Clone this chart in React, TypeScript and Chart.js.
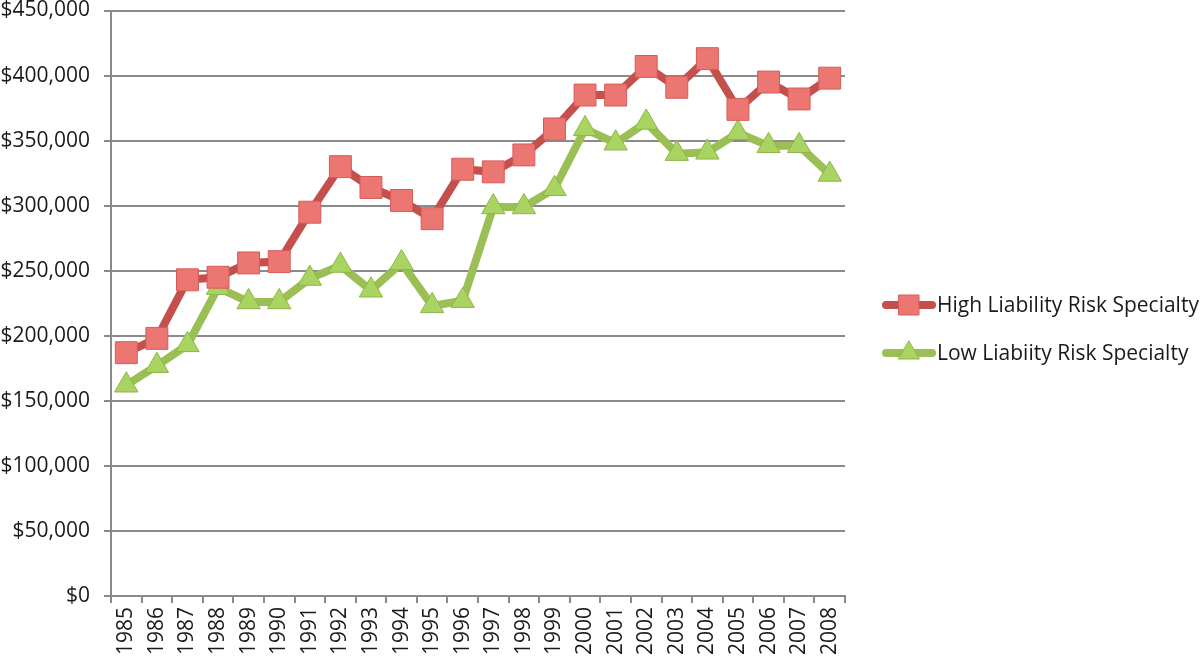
import React, { useEffect, useRef } from "react";
import { Chart, registerables } from "chart.js";

Chart.register(...registerables);

const years = [
  "1985", "1986", "1987", "1988", "1989", "1990", "1991", "1992", "1993", "1994", "1995", "1996",
  "1997", "1998", "1999", "2000", "2001", "2002", "2003", "2004", "2005", "2006", "2007", "2008",
];

const highLiability = [
  187000, 198000, 243000, 245000, 256000, 257000, 295000, 330000, 314000, 304000, 290000, 328000,
  326000, 339000, 359000, 385000, 385000, 407000, 391000, 413000, 374000, 395000, 382000, 398000,
];

const lowLiability = [
  162000, 177000, 193000, 237000, 226000, 226000, 244000, 254000, 235000, 256000, 223000, 227000,
  299000, 299000, 313000, 359000, 348000, 364000, 340000, 341000, 356000, 346000, 346000, 324000,
];

const FONT = "'Open Sans', sans-serif";
const SHIFT = 6;

const legendPlugin = {
  id: "sideLegend",
  afterDraw(chart: any) {
    const ctx = chart.ctx;
    const rows = [305 + SHIFT, 353 + SHIFT];
    chart.data.datasets.forEach((ds: any, i: number) => {
      const y = rows[i];
      ctx.save();
      ctx.strokeStyle = ds.borderColor;
      ctx.lineWidth = ds.borderWidth;
      ctx.lineCap = "round";
      ctx.beginPath();
      ctx.moveTo(886, y);
      ctx.lineTo(932, y);
      ctx.stroke();
      ctx.fillStyle = ds.pointBackgroundColor;
      ctx.strokeStyle = ds.pointBorderColor;
      ctx.lineWidth = 1;
      const cx = 909;
      if (ds.pointStyle === "rect") {
        ctx.beginPath();
        ctx.rect(cx - 10, y - 10, 20, 20);
        ctx.fill();
        ctx.stroke();
      } else {
        const r = 12;
        ctx.beginPath();
        ctx.moveTo(cx, y - r);
        ctx.lineTo(cx + r * 0.866, y + r * 0.5);
        ctx.lineTo(cx - r * 0.866, y + r * 0.5);
        ctx.closePath();
        ctx.fill();
        ctx.stroke();
      }
      ctx.fillStyle = "#1a1a1a";
      ctx.font = `21px ${FONT}`;
      ctx.textBaseline = "middle";
      ctx.textAlign = "left";
      ctx.fillText(ds.label, 937, y + 1);
      ctx.restore();
    });
  },
};

export default function App() {
  const ref = useRef<HTMLCanvasElement | null>(null);

  useEffect(() => {
    if (!ref.current) return;
    const chart = new Chart(ref.current, {
      type: "line",
      data: {
        labels: years,
        datasets: [
          {
            label: "High Liability Risk Specialty",
            data: highLiability,
            borderColor: "#c4504d",
            borderWidth: 8,
            pointStyle: "rect",
            pointRadius: 15.5,
            pointBackgroundColor: "#ec7672",
            pointBorderColor: "#d65c58",
            pointBorderWidth: 1,
            tension: 0,
          },
          {
            label: "Low Liabiity Risk Specialty",
            data: lowLiability,
            borderColor: "#9bbf55",
            borderWidth: 8,
            pointStyle: "triangle",
            pointRadius: 13.5,
            pointBackgroundColor: "#aad461",
            pointBorderColor: "#8db54a",
            pointBorderWidth: 1,
            tension: 0,
          },
        ],
      },
      options: {
        responsive: false,
        animation: false,
        layout: { padding: { top: 4, right: 355, left: 0, bottom: 0 } },
        plugins: { legend: { display: false }, tooltip: { enabled: false } },
        scales: {
          x: {
            offset: true,
            grid: {
              offset: true,
              drawOnChartArea: false,
              drawTicks: true,
              tickLength: 7,
              color: "#8a8a8a",
              lineWidth: 2,
            },
            border: { color: "#8a8a8a", width: 2 },
            ticks: {
              autoSkip: false,
              maxRotation: 90,
              minRotation: 90,
              color: "#1a1a1a",
              font: { family: FONT, size: 21 },
              padding: 4,
            },
            afterFit(scale: any) {
              scale.height = 68;
              scale.paddingLeft = 0;
              scale.paddingRight = 0;
            },
          },
          y: {
            min: 0,
            max: 450000,
            ticks: {
              stepSize: 50000,
              color: "#1a1a1a",
              font: { family: FONT, size: 21 },
              padding: 14,
              callback: (v: any) => "$" + Number(v).toLocaleString("en-US"),
            },
            grid: { color: "#8a8a8a", lineWidth: 2, tickLength: 7 },
            border: { color: "#8a8a8a", width: 2 },
            afterFit(scale: any) {
              scale.width = 111;
              scale.paddingTop = 0;
              scale.paddingBottom = 0;
            },
          },
        },
      },
      plugins: [legendPlugin],
    });
    return () => chart.destroy();
  }, []);

  return (
    <div style={{ position: "absolute", left: 0, top: 0, width: 1200, height: 664, background: "#fff", overflow: "hidden" }}>
      <canvas
        ref={ref}
        width={1200}
        height={664 + SHIFT}
        style={{ position: "absolute", left: 0, top: -SHIFT }}
      />
    </div>
  );
}
